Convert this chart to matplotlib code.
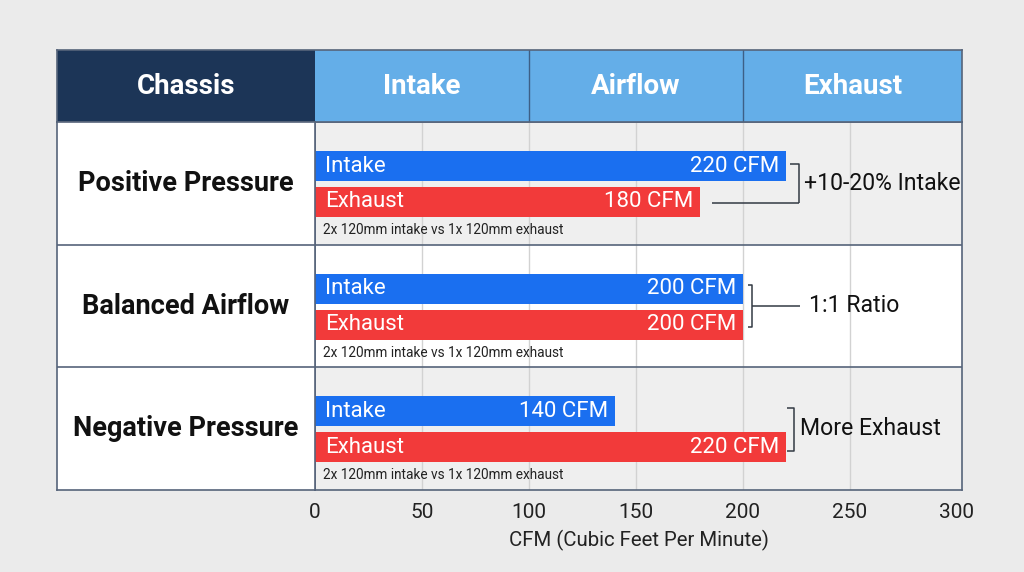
import matplotlib
matplotlib.use("Agg")
import matplotlib.pyplot as plt
from matplotlib.patches import Rectangle

plt.rcParams['font.family'] = ['Roboto', 'DejaVu Sans']

# ---- data ----
scenarios = ["Positive Pressure", "Balanced Airflow", "Negative Pressure"]
intake_cfm = [220, 200, 140]
exhaust_cfm = [180, 200, 220]
notes = ["2x 120mm intake vs 1x 120mm exhaust"] * 3
callouts = ["+10-20% Intake", "1:1 Ratio", "More Exhaust"]
header_labels = ["Chassis", "Intake", "Airflow", "Exhaust"]
x_ticks = [0, 50, 100, 150, 200, 250, 300]
x_label = "CFM (Cubic Feet Per Minute)"

# ---- style ----
W, H = 1024, 572
BG = "#ebebeb"
BLUE = "#1a6ff0"
RED = "#f23a3a"
NAVY = "#1c3557"
LIGHTBLUE = "#64aee8"
LINE = "#56647a"
GRID = "#d2d2d2"
ROW_BG = ["#efefef", "#ffffff", "#efefef"]

fig = plt.figure(figsize=(W / 100, H / 100), dpi=100, facecolor=BG)

def fr(x0, y0, x1, y1):
    return [x0 / W, 1 - y1 / H, (x1 - x0) / W, (y1 - y0) / H]

TL, TR, HT, HB, TB, CX = 57, 962, 50, 122, 490, 315

ax = fig.add_axes(fr(CX, HB, TR, TB))
hax = fig.add_axes(fr(TL, HT, TR, HB))
cax = fig.add_axes(fr(TL, HB, CX, TB))

xmax = 300 * (TR - CX) / (957 - CX)
ax.set_xlim(0, xmax)
ax.set_ylim(3, 0)
n = len(scenarios)
for i in range(n):
    ax.axhspan(i, i + 1, color=ROW_BG[i], zorder=0, lw=0)
for t in x_ticks[1:-1]:
    ax.axvline(t, color=GRID, lw=1, zorder=1)

BAR_FS = 16
CALL_FS = 16.6
bh = 0.245
yi, ye = 0.359, 0.652
for i in range(n):
    ax.barh(i + yi, intake_cfm[i], height=bh, left=0, color=BLUE, zorder=3)
    ax.barh(i + ye, exhaust_cfm[i], height=bh, left=0, color=RED, zorder=3)
    for yy, v, lab in [(i + yi, intake_cfm[i], "Intake"), (i + ye, exhaust_cfm[i], "Exhaust")]:
        ax.annotate(lab, (0, yy), xytext=(7, 0), textcoords="offset points",
                    ha="left", va="center", color="white", fontsize=BAR_FS, zorder=4)
        ax.annotate(f"{v} CFM", (v, yy), xytext=(-5, 0), textcoords="offset points",
                    ha="right", va="center", color="white", fontsize=BAR_FS, zorder=4)
    ax.annotate(notes[i], (0, i + 0.88), xytext=(6, 0), textcoords="offset points",
                ha="left", va="center", color="#222222", fontsize=9.8, zorder=4)

# brackets
px = (TR - CX) / xmax  # pixels per unit
def dx(p):
    return p / px

lk = dict(color="#333a44", lw=1.1, zorder=4, solid_capstyle="butt")
# row 0
r = 0
top, bot = r + 0.345, r + 0.66
xv = max(intake_cfm[r], exhaust_cfm[r]) + dx(13)
ax.plot([intake_cfm[r] + dx(4), xv, xv], [top, top, bot], **lk)
ax.plot([exhaust_cfm[r] + dx(12), xv], [bot, bot], **lk)
ax.text(xv + dx(5), r + 0.5, callouts[r], ha="left", va="center", fontsize=CALL_FS, color="#111111")
# row 1
r = 1
top, bot = r + 0.325, r + 0.67
xv = max(intake_cfm[r], exhaust_cfm[r]) + dx(9)
ax.plot([intake_cfm[r] + dx(5), xv, xv, intake_cfm[r] + dx(5)], [top, top, bot, bot], **lk)
ax.plot([xv, xv + dx(48)], [r + 0.5, r + 0.5], **lk)
ax.text(xv + dx(57), r + 0.5, callouts[r], ha="left", va="center", fontsize=CALL_FS, color="#111111")
# row 2
r = 2
top, bot = r + 0.33, r + 0.68
xv = max(intake_cfm[r], exhaust_cfm[r]) + dx(8)
ax.plot([xv - dx(7), xv, xv, xv - dx(7)], [top, top, bot, bot], **lk)
ax.text(xv + dx(6), r + 0.5, callouts[r], ha="left", va="center", fontsize=CALL_FS, color="#111111")

# row separators
for i in range(1, n):
    ax.axhline(i, color=LINE, lw=1.2, zorder=5)
for s in ax.spines.values():
    s.set_color(LINE); s.set_linewidth(1.2)
ax.set_yticks([])
ax.set_xticks(x_ticks)
ax.tick_params(axis="x", length=0, pad=9, labelsize=15, colors="#222222")
ax.set_xlabel(x_label, fontsize=14.7, color="#222222", labelpad=6)

# chassis column
cax.set_xlim(0, 1); cax.set_ylim(3, 0)
cax.set_facecolor("white")
for i in range(n):
    cax.text(0.5, i + 0.5, scenarios[i], ha="center", va="center",
             fontsize=19.5, fontweight="bold", color="#111111")
for i in range(1, n):
    cax.axhline(i, color=LINE, lw=1.2)
cax.set_xticks([]); cax.set_yticks([])
for s in cax.spines.values():
    s.set_color(LINE); s.set_linewidth(1.2)

# header
hax.set_xlim(TL, TR); hax.set_ylim(0, 1)
hax.add_patch(Rectangle((TL, 0), CX - TL, 1, color=NAVY, lw=0))
hax.add_patch(Rectangle((CX, 0), TR - CX, 1, color=LIGHTBLUE, lw=0))
def data2px(v):
    return CX + v * px
edges = [TL, CX, data2px(100), data2px(200), TR]
for e in edges[2:4]:
    hax.axvline(e, color="#3d5f86", lw=1)
for k, lab in enumerate(header_labels):
    hax.text((edges[k] + edges[k + 1]) / 2, 0.5, lab, ha="center", va="center",
             fontsize=20, fontweight="bold", color="white")
hax.set_xticks([]); hax.set_yticks([])
for s in hax.spines.values():
    s.set_color(LINE); s.set_linewidth(1.2)

fig.savefig("out.png", dpi=100, facecolor=BG)
